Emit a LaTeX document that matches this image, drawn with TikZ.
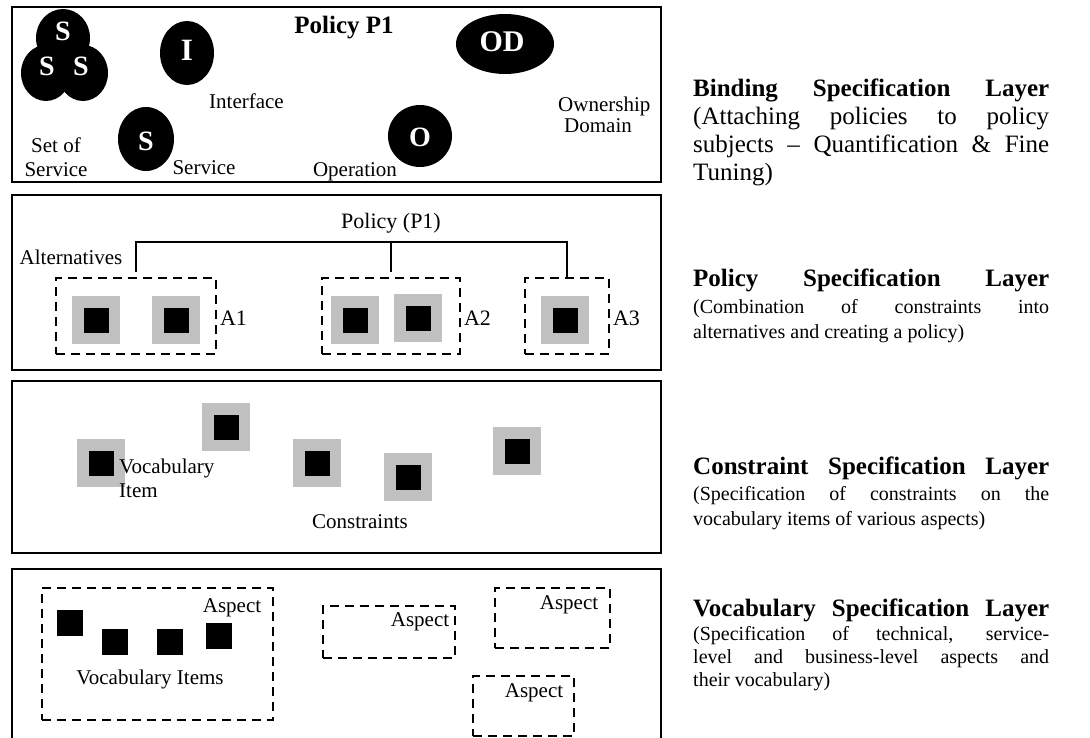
\documentclass[tikz,border=0pt]{standalone}
\usepackage{fontspec}
\setmainfont{Liberation Serif}
\usetikzlibrary{shapes.geometric,calc}
\definecolor{sqgrey}{HTML}{C0C0C0}
\newcommand{\myfs}[2]{\fontsize{#1}{#2}\selectfont}
\newcommand{\jl}[1]{\makebox[356pt][s]{#1}}
\tikzset{
  layerbox/.style={draw, line width=2pt},
  blob/.style={ellipse, fill=black, inner sep=0pt},
  blet/.style={text=white, font=\bfseries\myfs{28}{30}, inner sep=0pt},
  lbl/.style={font=\myfs{21}{24}, inner sep=0pt},
  gsq/.style={fill=sqgrey, minimum size=48pt, inner sep=0pt},
  bsq/.style={fill=black, minimum size=25pt, inner sep=0pt},
  vsq/.style={fill=black, minimum size=26pt, inner sep=0pt},
  dbox/.style={draw, line width=1.8pt, dash pattern=on 9pt off 6pt, inner sep=0pt},
  ttl/.style={anchor=base west, inner sep=0pt, font=\bfseries\myfs{25}{28}},
  bigt/.style={anchor=base west, inner sep=0pt, font=\myfs{25}{28}},
  subt/.style={anchor=base west, inner sep=0pt, font=\myfs{20}{22}},
}
\begin{document}
\begin{tikzpicture}[x=1pt,y=-1pt]
\clip (0,0) rectangle (1090,738);
\fill[white] (0,0) rectangle (1090,738);

% ---------- layer boxes
\draw[layerbox] (12,7) rectangle (661,182);
\draw[layerbox] (12,195) rectangle (661,370);
\draw[layerbox] (12,381) rectangle (661,553);
\draw[layerbox] (12,750) |- (661,569) -- (661,750);

% ---------- Layer 1: binding
\node[font=\bfseries\myfs{25}{28}, inner sep=0pt] (pp1) at (344,28) {Policy P1};
\node[blob, minimum width=54pt, minimum height=58pt] (ss1) at (63,38) {};
\node[blob, minimum width=50pt, minimum height=56pt] (ss2) at (46,73) {};
\node[blob, minimum width=50pt, minimum height=56pt] (ss3) at (83,73) {};
\node[blet] (ls1) at (63,31) {S};
\node[blet] (ls2) at (47,66) {S};
\node[blet] (ls3) at (81,66) {S};
\node[lbl, align=center, font=\myfs{21}{24}] (setof) at (56,157) {Set of\\Service};

\node[blob, minimum width=54pt, minimum height=64pt] (ifc) at (187,53) {};
\node[blet, font=\bfseries\myfs{31}{32}] (lifc) at (187,50) {I};
\node[lbl, anchor=west] (tifc) at (209,101) {Interface};

\node[blob, minimum width=56pt, minimum height=64pt] (svc) at (146,139) {};
\node[blet] (lsvc) at (146,141) {S};
\node[lbl] (tsvc) at (204,168) {Service};

\node[blob, minimum width=64pt, minimum height=62pt] (op) at (420,136) {};
\node[blet] (lop) at (420,137) {O};
\node[lbl] (top) at (355,172) {Operation};

\node[blob, minimum width=98pt, minimum height=60pt] (od) at (505,44) {};
\node[blet, font=\bfseries\myfs{30}{32}] (lod) at (502,42) {OD};
\node[lbl, anchor=west, align=left, font=\myfs{21}{21}] (tod) at (558,115) {Ownership\\\hspace*{6pt}Domain};

% ---------- Layer 2: policy
\node[lbl, font=\myfs{22}{24}] (pol) at (391,223) {Policy (P1)};
\node[lbl] (alt) at (71,257) {Alternatives};
\node[dbox, minimum width=160pt, minimum height=76pt] (a1) at (136,316) {};
\node[dbox, minimum width=138pt, minimum height=76pt] (a2) at (391,316) {};
\node[dbox, minimum width=84pt, minimum height=76pt] (a3) at (567,316) {};
\node[lbl, anchor=west, font=\myfs{22}{24}] (la1) at ($(a1.east)+(3,2)$) {A1};
\node[lbl, anchor=west, font=\myfs{22}{24}] (la2) at ($(a2.east)+(3,2)$) {A2};
\node[lbl, anchor=west, font=\myfs{22}{24}] (la3) at ($(a3.east)+(3,2)$) {A3};
\coordinate (bary) at (0,242);
\draw[line width=1.5pt] ([yshift=5pt]a1.north) |- (a3.north |- bary) -- (a3.north);
\draw[line width=1.5pt] ([yshift=5pt]a2.north) -- (a2.north |- bary);

\node[gsq] (c11) at (96,320) {}; \node[bsq] at (c11) {};
\node[gsq] (c12) at (176,320) {}; \node[bsq] at (c12) {};
\node[gsq] (c21) at (355,320) {}; \node[bsq] at (c21) {};
\node[gsq] (c22) at (418,318) {}; \node[bsq] at (c22) {};
\node[gsq] (c31) at (565,320) {}; \node[bsq] at (c31) {};

% ---------- Layer 3: constraints
\node[gsq] (k1) at (101,463) {}; \node[bsq] at (k1) {};
\node[gsq] (k2) at (226,427) {}; \node[bsq] at (k2) {};
\node[gsq] (k3) at (317,463) {}; \node[bsq] at (k3) {};
\node[gsq] (k4) at (408,477) {}; \node[bsq] at (k4) {};
\node[gsq] (k5) at (517,451) {}; \node[bsq] at (k5) {};
\node[lbl, anchor=west, align=left, font=\myfs{21}{24}] (vit) at (119,478) {Vocabulary\\Item};
\node[lbl] (cons) at (360,522) {Constraints};

% ---------- Layer 4: vocabulary
\node[dbox, minimum width=231pt, minimum height=132pt] (asp1) at (157.5,654) {};
\node[vsq] (v1) at (70,623) {};
\node[vsq] (v2) at (115,642) {};
\node[vsq] (v3) at (170,642) {};
\node[vsq] (v4) at (219,636) {};
\node[lbl] (tasp1) at (232,608) {Aspect};
\node[lbl] (tvi) at (150,679) {Vocabulary Items};

\node[dbox, minimum width=132pt, minimum height=52pt] (asp2) at (389,632) {};
\node[lbl] (tasp2) at (420,622) {Aspect};
\node[dbox, minimum width=115pt, minimum height=60pt] (asp3) at (552.5,618) {};
\node[lbl] (tasp3) at (569,605) {Aspect};
\node[dbox, minimum width=101pt, minimum height=60pt] (asp4) at (523.5,706) {};
\node[lbl] (tasp4) at (534,693) {Aspect};

% ---------- Right column texts
\node[ttl] (t1a) at (693,97) {\jl{Binding Specification Layer}};
\node[bigt] (t1b) at (693,125) {\jl{(Attaching policies to policy}};
\node[bigt] (t1c) at (693,153) {\jl{subjects -- Quantification \& Fine}};
\node[bigt] (t1d) at (693,181) {Tuning)};

\node[ttl] (t2a) at (693,287) {\jl{Policy Specification Layer}};
\node[subt] (t2b) at (693,313) {\jl{(Combination of constraints into}};
\node[subt] (t2c) at (693,338) {alternatives and creating a policy)};

\node[ttl] (t3a) at (693,474) {\jl{Constraint Specification Layer}};
\node[subt] (t3b) at (693,500) {\jl{(Specification of constraints on the}};
\node[subt] (t3c) at (693,525) {vocabulary items of various aspects)};

\node[ttl] (t4a) at (693,616) {\jl{Vocabulary Specification Layer}};
\node[subt] (t4b) at (693,640) {\jl{(Specification of technical, service-}};
\node[subt] (t4c) at (693,663) {\jl{level and business-level aspects and}};
\node[subt] (t4d) at (693,686) {their vocabulary)};
\end{tikzpicture}
\end{document}
